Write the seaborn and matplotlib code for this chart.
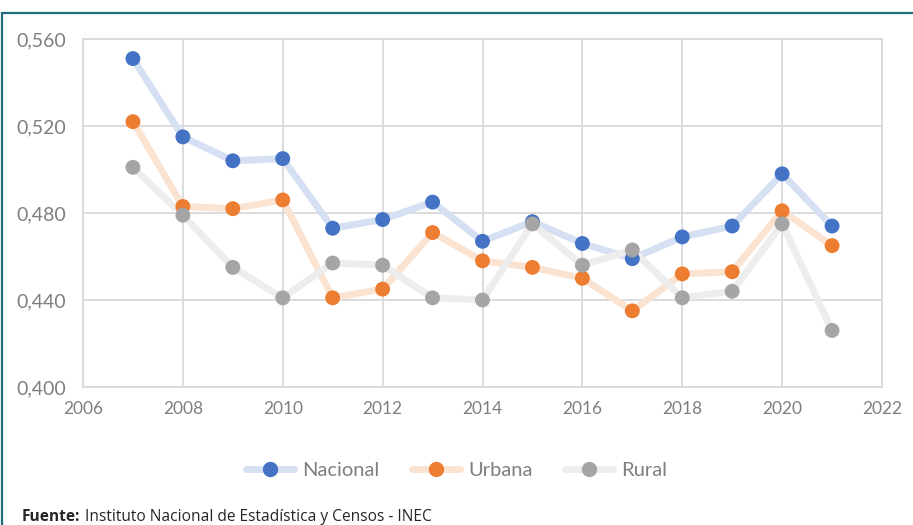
"""
Coeficiente de Gini por área - Nacional, Urbana, Rural
"""

import pandas as pd
import seaborn as sns
import matplotlib.pyplot as plt
from matplotlib.lines import Line2D
from matplotlib.patches import Rectangle
from matplotlib.ticker import FuncFormatter, MultipleLocator

# data
YEARS = list(range(2007, 2022))
NACIONAL = [0.551, 0.515, 0.504, 0.505, 0.473, 0.477, 0.485, 0.467, 0.476,
            0.466, 0.459, 0.469, 0.474, 0.498, 0.474]
URBANA = [0.522, 0.483, 0.482, 0.486, 0.441, 0.445, 0.471, 0.458, 0.455,
          0.450, 0.435, 0.452, 0.453, 0.481, 0.465]
RURAL = [0.501, 0.479, 0.455, 0.441, 0.457, 0.456, 0.441, 0.440, 0.475,
         0.456, 0.463, 0.441, 0.444, 0.475, 0.426]
SERIES = ['Nacional', 'Urbana', 'Rural']

DATA = pd.DataFrame({
    'year': YEARS * 3,
    'value': NACIONAL + URBANA + RURAL,
    'area': [s for s in SERIES for _ in YEARS],
})

LINE_COLORS = {'Nacional': '#D6E0F3', 'Urbana': '#FBE3D2', 'Rural': '#EDEDED'}
DOT_COLORS = {'Nacional': '#4472C4', 'Urbana': '#ED7D31', 'Rural': '#A5A5A5'}

# set plot dimensions
X_PIXELS, Y_PIXELS, DPI = 913, 525, 100
sns.set_style('white')
plt.rcParams['font.family'] = ['Lato', 'DejaVu Sans']

fig = plt.figure(figsize=(X_PIXELS / DPI, Y_PIXELS / DPI), dpi=DPI)
ax = fig.add_axes([83 / 913, 1 - 387 / 525, (882 - 83) / 913, (387 - 39) / 525])

sns.lineplot(data=DATA, x='year', y='value', hue='area', palette=LINE_COLORS,
             linewidth=5, legend=False, ax=ax, zorder=2)
sns.scatterplot(data=DATA, x='year', y='value', hue='area', palette=DOT_COLORS,
                s=115, edgecolor='none', legend=False, ax=ax, zorder=3)

ax.set_xlim(2006, 2022)
ax.set_ylim(0.400, 0.560)
ax.xaxis.set_major_locator(MultipleLocator(2))
ax.yaxis.set_major_locator(MultipleLocator(0.04))
ax.yaxis.set_major_formatter(FuncFormatter(lambda v, p: f'{v:.3f}'.replace('.', ',')))
ax.grid(True, color='#D9D9D9', linewidth=1.3, zorder=0)
ax.set_axisbelow(True)
for side in ax.spines.values():
    side.set_color('#D9D9D9')
    side.set_linewidth(1.3)
ax.tick_params(axis='both', length=0, colors='#7F7F7F')
ax.tick_params(axis='y', labelsize=14, pad=12)
ax.tick_params(axis='x', labelsize=12.5, pad=10)
ax.set_xlabel('')
ax.set_ylabel('')

# legend
handles = [Line2D([], [], color=LINE_COLORS[s], linewidth=5, marker='o',
                  markersize=10, markerfacecolor=DOT_COLORS[s],
                  markeredgecolor=DOT_COLORS[s]) for s in SERIES]
fig.legend(handles, SERIES, loc='center', bbox_to_anchor=(0.5, 1 - 470 / 525),
           ncol=3, frameon=False, fontsize=14.5, handlelength=2.4,
           columnspacing=1.6, handletextpad=0.4, labelcolor='#7F7F7F')

# source note
fig.text(22 / 913, 1 - 517 / 525, 'Fuente:', fontsize=11.2, fontweight='bold',
         family=['Open Sans', 'DejaVu Sans'], ha='left', va='center')
fig.text(85 / 913, 1 - 517 / 525, 'Instituto Nacional de Estadística y Censos - INEC',
         fontsize=11.2, family=['Open Sans', 'DejaVu Sans'], ha='left', va='center')

# frame around the figure
fig.patches.append(Rectangle((1.5 / 913, -0.1), 1.2, 1 - 13 / 525 + 0.1,
                             transform=fig.transFigure, fill=False,
                             edgecolor='#1F6B7A', linewidth=1.6, clip_on=False))

plt.savefig('out.png', dpi=DPI)
